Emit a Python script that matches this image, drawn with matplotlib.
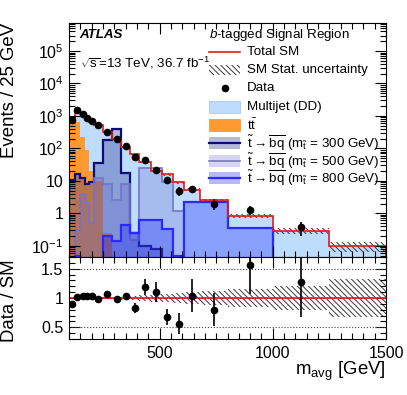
import numpy as np
import matplotlib
matplotlib.use('Agg')
import matplotlib.pyplot as plt
from matplotlib.patches import Rectangle
from matplotlib.ticker import FixedLocator, MultipleLocator, LogLocator, FuncFormatter, NullFormatter

plt.rcParams['font.family'] = ['Liberation Sans', 'DejaVu Sans']
plt.rcParams['mathtext.fontset'] = 'custom'
plt.rcParams['mathtext.rm'] = 'Liberation Sans'
plt.rcParams['mathtext.it'] = 'Liberation Sans:italic'
plt.rcParams['mathtext.bf'] = 'Liberation Sans:bold'
plt.rcParams['hatch.linewidth'] = 0.7

# m_avg bin edges [GeV], contents are events / 25 GeV
edges = [100, 125, 150, 170, 190, 210, 250, 290, 330, 370, 410, 460, 510, 560, 610, 680, 800, 1000, 1250, 1500]
multijet = [200, 850, 890, 735, 635, 505, 310, 194, 114, 67, 37, 20, 15.7, 8.9, 5.4, 2.5, 0.83, 0.29, 0.095]
ttbar = [650, 650, 230, 90, 20, 10, 0.25, 0, 0, 0, 0, 0, 0, 0, 0, 0, 0, 0, 0]
sm_relerr = [0.02, 0.015, 0.015, 0.015, 0.015, 0.015, 0.02, 0.025, 0.03, 0.04, 0.05, 0.06, 0.07, 0.08, 0.1, 0.12, 0.15, 0.2, 0.33]
sig300 = [10.5, 16, 12.6, 8, 9, 35, 175, 400, 17, 0.25, 0.1, 0.08, 0, 0, 0, 0, 0, 0, 0]
sig500 = [0, 0.3, 4, 2.2, 0.5, 12, 8, 2.5, 8, 0.15, 25, 25, 9, 1.2, 0, 0, 0, 0, 0]
sig800 = [0, 0.05, 0, 0, 0, 0, 0.2, 0.14, 0.45, 0.25, 0.6, 0.6, 0.33, 0.05, 2.3, 2.3, 0.35, 0, 0]
data = [760, 1520, 1150, 850, 675, 510, 330, 190, 117, 56, 44, 22, 10.7, 5.0, 5.6, 2.0, 1.3, 0.37]
data_relerr = [0.02, 0.015, 0.02, 0.02, 0.02, 0.025, 0.03, 0.04, 0.05, 0.1, 0.11, 0.16, 0.2, 0.32, 0.27, 0.35, 0.32, 0.47]

edges = np.array(edges, float)
centers = 0.5 * (edges[1:] + edges[:-1])
multijet = np.array(multijet)
ttbar = np.array(ttbar)
total = multijet + ttbar
rel = np.array(sm_relerr)
data = np.array(data)
dcent = centers[:len(data)]
derr = data * np.array(data_relerr)
ratio = data / total[:len(data)]
rerr = ratio * np.array(data_relerr)

c_mj = '#bedcfb'
c_tt = '#ff9a33'
c_red = '#e31a1c'
c_hatch = '#3a3a3a'
hatch = '\\\\\\\\\\\\'
sig_styles = [(sig300, '#0c0c78', (0.12, 0.15, 0.55, 0.32), 1.6),
              (sig500, '#7474c8', (0.42, 0.42, 0.82, 0.28), 1.2),
              (sig800, '#2a2aff', (0.05, 0.1, 1.0, 0.3), 1.6)]
floor = 1e-4

W, H = 407, 395
fig = plt.figure(figsize=(W / 100, H / 100), dpi=100)
ax = fig.add_axes([69 / W, 1 - 257 / H, 317 / W, 234 / H])
rax = fig.add_axes([69 / W, 1 - 339 / H, 317 / W, 82 / H])

# stacked background
ax.stairs(total, edges, baseline=floor, fill=True, color=c_mj, lw=0)
ax.stairs(np.clip(ttbar, floor, None), edges, baseline=floor, fill=True, color=c_tt, lw=0)
ax.stairs(total * (1 + rel), edges, baseline=total * (1 - rel), fill=True,
          facecolor='none', edgecolor=c_hatch, hatch=hatch, lw=0)

# signals
for sig, lc, fc, lw in sig_styles:
    s = np.clip(np.array(sig, float), floor, None)
    ax.stairs(s, edges, baseline=floor, fill=True, facecolor=fc, lw=0)
    ax.stairs(s, edges, baseline=floor, color=lc, lw=lw)

ax.stairs(total, edges, color=c_red, lw=1.2)
ax.errorbar(dcent, data, yerr=derr, fmt='o', color='k', ms=4.5, elinewidth=1.2, capsize=0)

ax.set_yscale('log')
ax.set_ylim(0.045, 7.3e5)
ax.set_xlim(100, 1500)

labels = {-1: '$10^{-1}$', 0: '1', 1: '10', 2: '$10^{2}$', 3: '$10^{3}$', 4: '$10^{4}$', 5: '$10^{5}$'}
ax.yaxis.set_major_locator(FixedLocator([10.0 ** k for k in range(-1, 6)]))
ax.yaxis.set_major_formatter(FuncFormatter(lambda v, p: labels.get(int(round(np.log10(v))), '')))
ax.yaxis.set_minor_locator(LogLocator(base=10, subs=np.arange(2, 10), numticks=20))
ax.yaxis.set_minor_formatter(NullFormatter())

for a in (ax, rax):
    a.xaxis.set_major_locator(MultipleLocator(500))
    a.xaxis.set_minor_locator(MultipleLocator(50))
    a.tick_params(which='both', direction='in', top=True, right=True, labelsize=11.5, pad=4)
    a.tick_params(which='major', length=8, width=0.8)
    a.tick_params(which='minor', length=4, width=0.8)
ax.tick_params(labelbottom=False)
rax.tick_params(axis='x', pad=5)

# ratio panel
rax.stairs(1 + rel, edges, baseline=1 - rel, fill=True,
           facecolor='none', edgecolor=c_hatch, hatch=hatch, lw=0)
for yv in (0.5, 1.0, 1.5):
    rax.axhline(yv, color='#444444', ls=':', lw=0.8)
rax.axhline(1.0, color=c_red, lw=1.2)
rax.errorbar(dcent, ratio, yerr=rerr, fmt='o', color='k', ms=4.5, elinewidth=1.2, capsize=0)
rax.set_xlim(100, 1500)
rax.set_ylim(0.3, 1.7)
rax.yaxis.set_major_locator(FixedLocator([0.5, 1.0, 1.5]))
rax.yaxis.set_major_formatter(FuncFormatter(lambda v, p: '%g' % v))
rax.yaxis.set_minor_locator(MultipleLocator(0.1))

fig.text(10 / W, 1 - 23 / H, 'Events / 25 GeV', rotation=90, ha='center', va='top', fontsize=13.4)
fig.text(10 / W, 1 - 259 / H, 'Data / SM', rotation=90, ha='center', va='top', fontsize=13.4)
fig.text(386 / W, 1 - 360 / H, r'$\mathrm{m}_{\mathrm{avg}}$ [GeV]', ha='right', va='top', fontsize=13.4)

# overlay for text and legend, in pixel units
lax = fig.add_axes([0, 0, 1, 1], zorder=10)
lax.set_xlim(0, W)
lax.set_ylim(H, 0)
lax.axis('off')
lax.text(79, 35, 'ATLAS', fontsize=9.6, weight='bold', style='italic', va='center')
lax.text(80, 63, r'$\sqrt{\mathrm{s}}$=13 TeV, 36.7 fb$^{-1}$', fontsize=9.6, va='center')
lax.text(209, 35, r'$b$-tagged Signal Region', fontsize=9.6, va='center')

leg_labels = ['Total SM', 'SM Stat. uncertainty', 'Data', 'Multijet (DD)', r'$\mathrm{t\bar{t}}$',
              r'$\tilde{\mathrm{t}}\rightarrow\overline{\mathrm{bq}}$ ($\mathrm{m}_{\tilde{\mathrm{t}}}$ = 300 GeV)',
              r'$\tilde{\mathrm{t}}\rightarrow\overline{\mathrm{bq}}$ ($\mathrm{m}_{\tilde{\mathrm{t}}}$ = 500 GeV)',
              r'$\tilde{\mathrm{t}}\rightarrow\overline{\mathrm{bq}}$ ($\mathrm{m}_{\tilde{\mathrm{t}}}$ = 800 GeV)']
rows = [52, 70, 88, 107, 125, 143, 161, 178]
x0, x1 = 209, 240
for lab, y in zip(leg_labels, rows):
    lax.text(247, y, lab, fontsize=9.6, va='center')
lax.plot([x0, x1], [rows[0]] * 2, color=c_red, lw=1.2)
lax.add_patch(Rectangle((x0, rows[1] - 5), x1 - x0, 10, facecolor='none', edgecolor=c_hatch, hatch=hatch, lw=0))
lax.plot([(x0 + x1) / 2], [rows[2]], 'o', color='k', ms=4.5)
lax.add_patch(Rectangle((x0, rows[3] - 6), x1 - x0, 12, facecolor=c_mj, edgecolor='#a8ccf5', lw=0.6))
lax.add_patch(Rectangle((x0, rows[4] - 6), x1 - x0, 12, facecolor=c_tt, edgecolor=c_tt, lw=0.6))
for (sig, lc, fc, lw), y in zip(sig_styles, rows[5:]):
    lax.add_patch(Rectangle((x0, y - 6), x1 - x0, 12, facecolor=fc, lw=0))
    lax.plot([x0, x1], [y, y], color=lc, lw=lw)

fig.savefig('out.png', dpi=100)
